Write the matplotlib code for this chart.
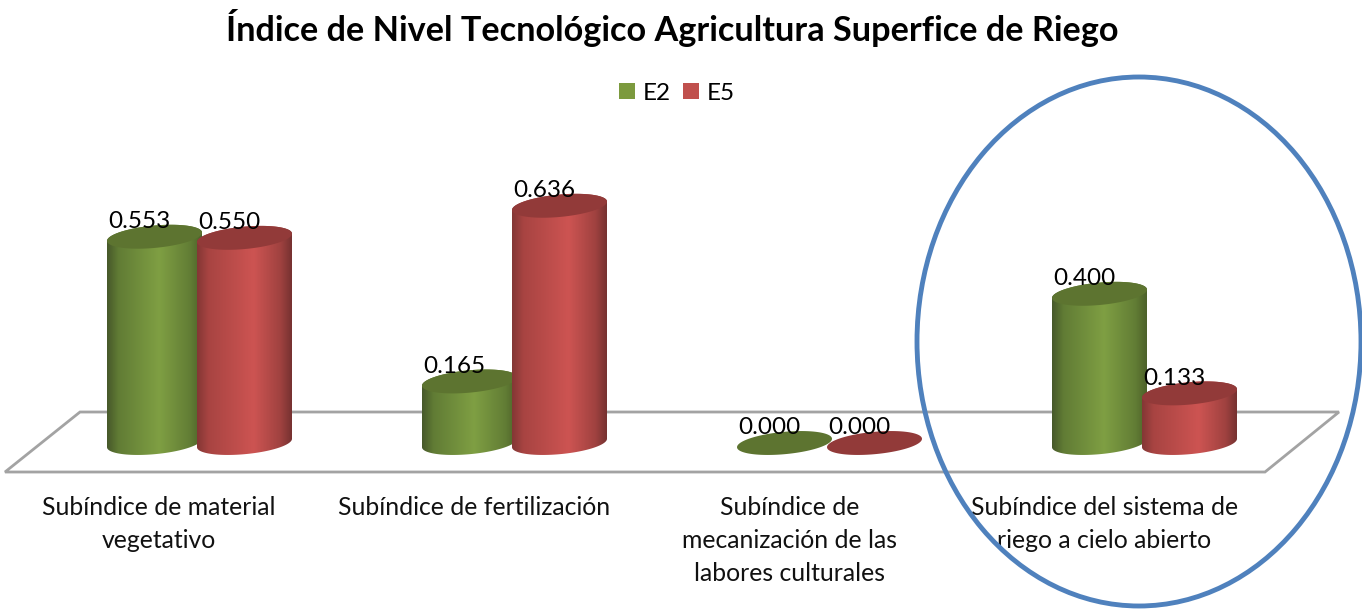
import numpy as np
import matplotlib

matplotlib.use("Agg")
import matplotlib.pyplot as plt
from matplotlib.colors import LinearSegmentedColormap
from matplotlib.patches import Ellipse, Patch, PathPatch, Polygon
from matplotlib.path import Path

categories = [
    "Subíndice de material\nvegetativo",
    "Subíndice de fertilización",
    "Subíndice de\nmecanización de las\nlabores culturales",
    "Subíndice del sistema de\nriego a cielo abierto",
]
e2_values = [0.553, 0.165, 0.000, 0.400]
e5_values = [0.550, 0.636, 0.000, 0.133]
series_names = ["E2", "E5"]
title = "Índice de Nivel Tecnológico Agricultura Superfice de Riego"

W, H = 1362, 613
GROUP_PX = 315.0  # px per category
VALUE_PX = 373.0  # px per unit of value
X0_PX, Y0_PX = 199.5, 443.0  # where category 0 / value 0 land
BAR_W = 95 / GROUP_PX
BAR_OFF = 45 / GROUP_PX
RX = BAR_W / 2
RY = 11.2 / VALUE_PX  # ellipse half height
SHEAR = 4.2 / VALUE_PX  # right side sits higher than left

green_map = LinearSegmentedColormap.from_list(
    "green", [(0, "#47592a"), (0.12, "#617c35"), (0.55, "#7f9f43"), (0.88, "#627d35"), (1, "#4d622a")]
)
red_map = LinearSegmentedColormap.from_list(
    "red", [(0, "#843735"), (0.12, "#a84442"), (0.6, "#cd5452"), (0.88, "#a04240"), (1, "#773231")]
)
green_top = "#5d7430"
red_top = "#923a39"
green_key = "#7c9a3e"
red_key = "#c0504d"


def ellipse_pts(x, y):
    t = np.linspace(0, 2 * np.pi, 121)
    return np.column_stack(
        [x + RX * np.cos(t), y + RY * np.sin(t) + SHEAR * np.cos(t)]
    )


def body_path(x, v):
    t = np.linspace(np.pi, 2 * np.pi, 61)
    low = np.column_stack(
        [x + RX * np.cos(t), RY * np.sin(t) + SHEAR * np.cos(t)]
    )
    t = np.linspace(0, np.pi, 61)
    high = np.column_stack(
        [x + RX * np.cos(t), v + RY * np.sin(t) + SHEAR * np.cos(t)]
    )
    return Path(np.vstack([low, high, low[:1]]), closed=True)


def cylinder(ax, x, v, cmap, top_color, z):
    if v > 0:
        img = ax.imshow(
            np.linspace(0, 1, 128).reshape(1, -1),
            cmap=cmap,
            extent=(x - RX, x + RX, -0.1, v + 0.1),
            aspect="auto",
            zorder=z,
        )
        img.set_clip_path(PathPatch(body_path(x, v), transform=ax.transData))
    ax.add_patch(Polygon(ellipse_pts(x, v), closed=True, fc=top_color, ec="none", zorder=z + 0.1))


fig = plt.figure(figsize=(W / 100, H / 100), dpi=100, facecolor="white")
plt.rcParams["font.family"] = ["Lato", "DejaVu Sans"]

# pixel layer for the floor and the hand drawn circle
back = fig.add_axes([0, 0, 1, 1], zorder=0)
back.set_xlim(0, W)
back.set_ylim(H, 0)
back.axis("off")
back.add_patch(
    Polygon([(80, 412), (1339, 412), (1265, 472), (5, 472)], closed=True, fc="white", ec="#a3a3a3", lw=2)
)

ax = fig.add_axes([0, 0, 1, 1], zorder=1)
ax.patch.set_alpha(0)
ax.axis("off")

for i, (a, b) in enumerate(zip(e2_values, e5_values)):
    cylinder(ax, i - BAR_OFF, a, green_map, green_top, 2)
    cylinder(ax, i + BAR_OFF, b, red_map, red_top, 3)
    for x, v in ((i - BAR_OFF, a), (i + BAR_OFF, b)):
        ax.annotate(
            f"{v:.3f}",
            (x, v),
            xytext=(-11, 11),
            textcoords="offset points",
            ha="center",
            va="center",
            fontsize=17.5,
            color="black",
            zorder=5,
        )
    ax.annotate(
        categories[i],
        (i, 0),
        xytext=(-29, -38),
        textcoords="offset points",
        ha="center",
        va="top",
        fontsize=17.8,
        linespacing=1.52,
        color="#111111",
        zorder=5,
    )

ax.set_xlim(-X0_PX / GROUP_PX, (W - X0_PX) / GROUP_PX)
ax.set_ylim((Y0_PX - H) / VALUE_PX, Y0_PX / VALUE_PX)

front = fig.add_axes([0, 0, 1, 1], zorder=2)
front.patch.set_alpha(0)
front.set_xlim(0, W)
front.set_ylim(H, 0)
front.axis("off")
front.add_patch(Ellipse((1139, 341.5), 444, 529, fc="none", ec="#4f81bd", lw=3.5))

fig.text(672 / W, 1 - 28 / H, title, ha="center", va="center", fontsize=24.65, fontweight="bold", color="black")

fig.legend(
    handles=[Patch(fc=green_key, ec="none"), Patch(fc=red_key, ec="none")],
    labels=series_names,
    loc="center",
    bbox_to_anchor=(677 / W, 1 - 93 / H),
    ncol=2,
    frameon=False,
    fontsize=17.5,
    handlelength=0.66,
    handleheight=0.66,
    handletextpad=0.32,
    columnspacing=0.5,
)

fig.savefig("out.png", dpi=100)
